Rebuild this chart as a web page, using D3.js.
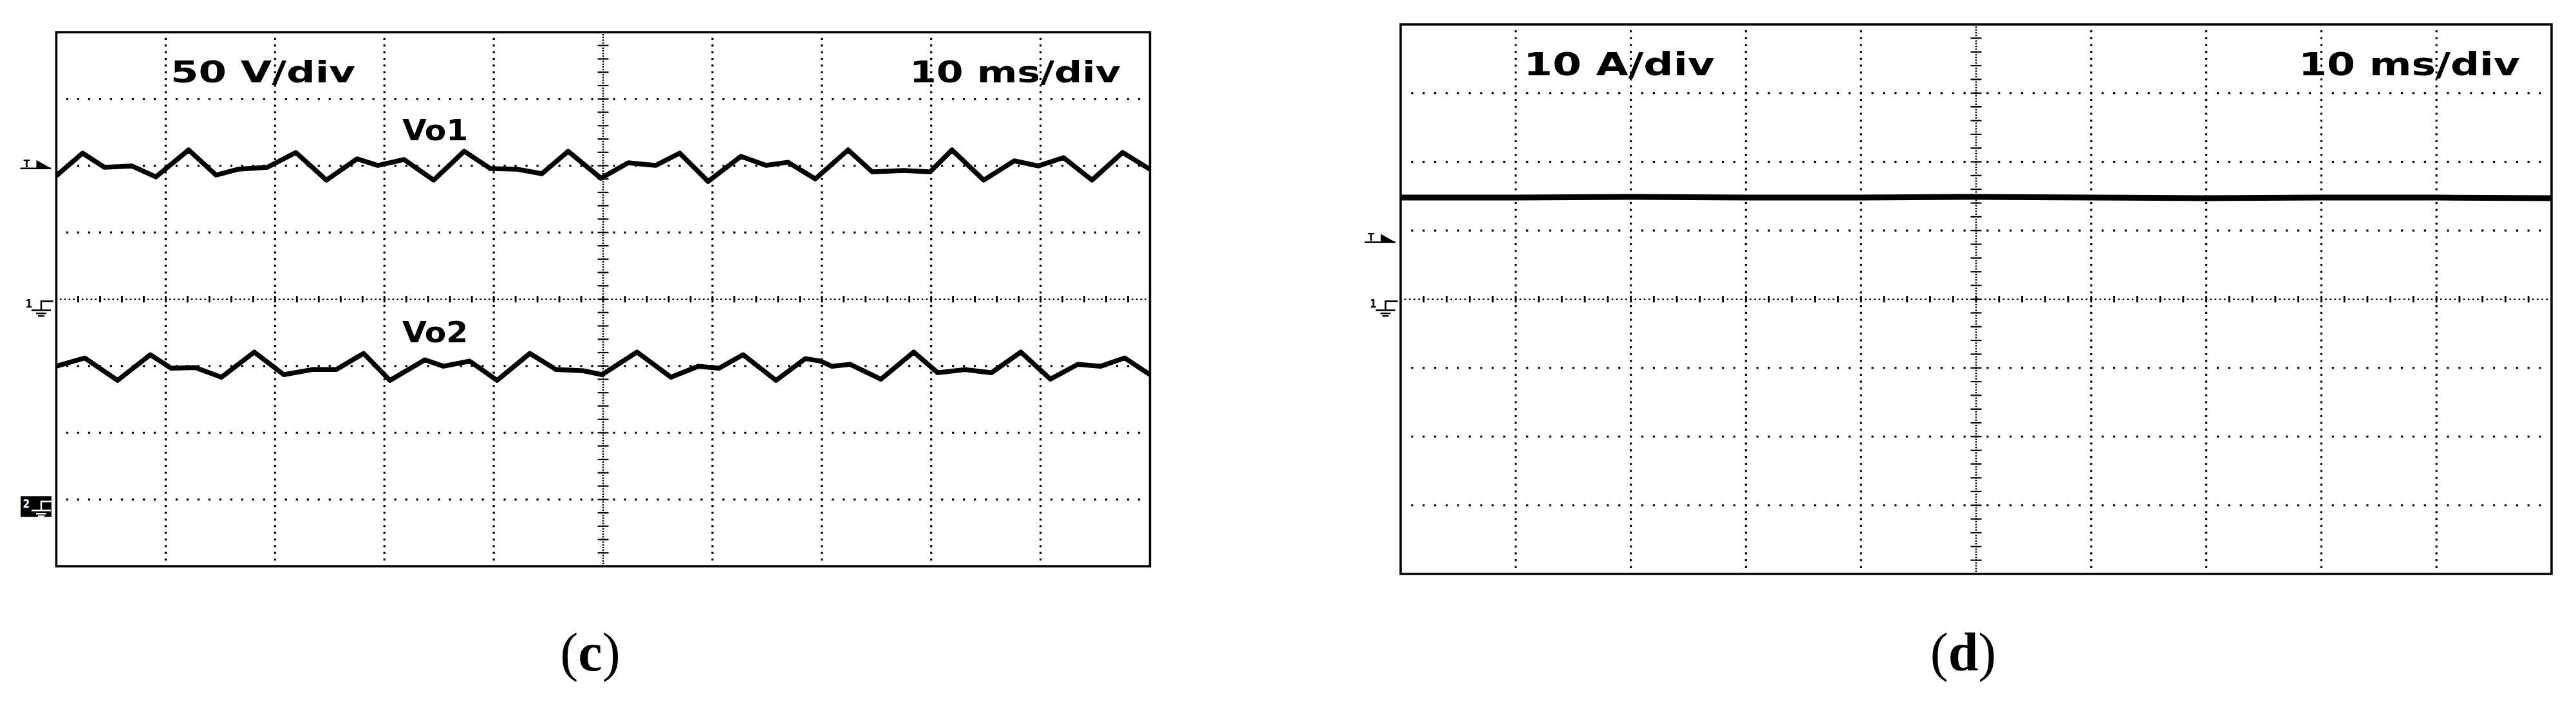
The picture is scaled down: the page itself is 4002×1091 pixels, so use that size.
<!DOCTYPE html>
<html>
<head>
<meta charset="utf-8">
<script src="https://cdn.jsdelivr.net/npm/d3@7"></script>
<style>
  body { margin: 0; background: #fff; }
  .scope-text { font-family: 'DejaVu Sans Condensed', 'DejaVu Sans', sans-serif; font-weight: bold; fill: #000; }
  .caption { font-family: 'Liberation Serif', 'Times New Roman', serif; fill: #000; }
</style>
</head>
<body>
<div id="chart"></div>
<script>
// ---- data read off the scope shots ----
// (c) output voltages, time in ms, volts
const timeVo1 = [0, 2.4, 4.4, 6.9, 9.1, 12.1, 14.6, 16.6, 19.3, 21.9, 24.7, 27.5, 29.4, 31.8, 34.5, 37.3, 39.7, 42.2, 44.4, 46.8,
  49.8, 52.3, 54.8, 57.0, 59.6, 62.6, 64.9, 66.9, 69.4, 72.4, 74.6, 77.5, 79.9, 81.9, 84.8, 87.6, 89.8, 92.1, 94.7, 97.5, 100];
const valVo1 = [92.5, 109.4, 98.8, 99.8, 91.6, 111.8, 93.0, 97.3, 98.8, 109.9, 89.2, 105.1, 100.2, 104.6, 89.2, 110.8, 97.8, 97.3, 94.0, 110.8,
  90.6, 102.2, 100.2, 109.4, 88.2, 107.0, 100.2, 102.6, 90.1, 111.8, 95.4, 96.4, 95.4, 111.8, 89.2, 103.6, 99.8, 106.0, 89.2, 109.9, 97.3];
const timeVo2 = [0, 2.6, 5.6, 8.6, 10.5, 12.7, 15.1, 18.1, 20.8, 23.4, 25.6, 28.1, 30.5, 33.7, 35.4, 37.8, 40.3, 43.3, 45.7, 48.2,
  49.9, 53.1, 56.2, 58.7, 60.6, 62.8, 65.8, 68.5, 69.9, 70.9, 72.6, 75.4, 78.4, 80.6, 83.1, 85.5, 88.2, 90.9, 93.4, 95.5, 97.7, 100];
const valVo2 = [99.8, 106.0, 89.2, 108.4, 98.3, 98.8, 91.6, 110.4, 93.5, 97.3, 97.3, 109.4, 89.2, 104.6, 99.8, 103.6, 89.2, 109.4, 97.3, 96.4,
  93.5, 110.4, 91.6, 99.8, 98.3, 108.4, 89.2, 105.5, 103.6, 99.8, 101.2, 90.1, 110.4, 94.9, 97.3, 94.9, 110.4, 90.1, 101.2, 99.8, 106.0, 93.5];
// (d) current, time in ms, amps
const timeIo = [0, 10, 20, 30, 40, 50, 60, 70, 80, 90, 100];
const valIo = [14.8, 14.8, 14.9, 14.8, 14.8, 14.9, 14.8, 14.7, 14.8, 14.8, 14.7];

// per-panel settings
const labelsC = { left: '50 V/div', right: '10 ms/div' };
const labelsD = { left: '10 A/div', right: '10 ms/div' };

const W = 4002;
const H = 1091;

const svg = d3.select('#chart').append('svg')
  .attr('width', W)
  .attr('height', H);
svg.append('rect').attr('width', W).attr('height', H).attr('fill', '#fff');

// draws graticule of a scope screen, returns scales
function drawScreen(box, perDiv) {
  const g = svg.append('g');
  const x = d3.scaleLinear().domain([0, 100]).range([box.left, box.right]);
  const y = d3.scaleLinear().domain([-4 * perDiv, 4 * perDiv]).range([box.bottom, box.top]);

  const dots = [];
  // vertical grid lines (dotted every 1/10 div)
  d3.range(1, 10).filter(i => i !== 5).forEach(i => {
    d3.range(1, 80).forEach(k => dots.push([x(i * 10), y(-4 * perDiv + k * perDiv / 10)]));
  });
  // horizontal grid lines
  d3.range(1, 8).filter(j => j !== 4).forEach(j => {
    d3.range(1, 100).forEach(k => dots.push([x(k), y(-4 * perDiv + j * perDiv)]));
  });
  g.selectAll('rect.dot').data(dots).join('rect')
    .attr('class', 'dot')
    .attr('x', d => d[0] - 1.6).attr('y', d => d[1] - 1.6)
    .attr('width', 3.2).attr('height', 3.2)
    .attr('fill', '#000');

  // centre lines: fine dots + minor ticks
  const cx = x(50);
  const cy = y(0);
  const fine = [];
  d3.range(1, 250).forEach(k => fine.push([x(k * 100 / 250), cy]));
  d3.range(1, 200).forEach(k => fine.push([cx, y(-4 * perDiv + k * 8 * perDiv / 200)]));
  g.selectAll('rect.fine').data(fine).join('rect')
    .attr('class', 'fine')
    .attr('x', d => d[0] - 1.3).attr('y', d => d[1] - 1.1)
    .attr('width', 2.6).attr('height', 2.2)
    .attr('fill', '#000');

  g.selectAll('line.htick').data(d3.range(1, 50)).join('line')
    .attr('class', 'htick')
    .attr('x1', k => x(k * 2)).attr('x2', k => x(k * 2))
    .attr('y1', cy - 5).attr('y2', cy + 5)
    .attr('stroke', '#000').attr('stroke-width', 2.8);
  g.selectAll('line.vtick').data(d3.range(1, 40)).join('line')
    .attr('class', 'vtick')
    .attr('y1', k => y(-4 * perDiv + k * perDiv / 5)).attr('y2', k => y(-4 * perDiv + k * perDiv / 5))
    .attr('x1', cx - 8.5).attr('x2', cx + 8.5)
    .attr('stroke', '#000').attr('stroke-width', 2.2);

  // frame
  g.append('rect')
    .attr('x', box.left).attr('y', box.top)
    .attr('width', box.right - box.left).attr('height', box.bottom - box.top)
    .attr('fill', 'none').attr('stroke', '#000').attr('stroke-width', 3.5);

  return { x, y, g };
}

// trigger marker "T" with arrow, bottom sitting on level
function triggerMarker(left, yl) {
  const g = svg.append('g');
  g.append('line').attr('x1', left - 56).attr('x2', left - 8).attr('y1', yl).attr('y2', yl)
    .attr('stroke', '#000').attr('stroke-width', 2.5);
  g.append('text').attr('class', 'scope-text').attr('x', left - 51).attr('y', yl - 2)
    .style('font-size', '16px').text('T');
  g.append('path').attr('d', `M${left - 31},${yl - 13}L${left - 31},${yl}L${left - 8},${yl}Z`).attr('fill', '#000');
}

// channel ground marker
function groundMarker(left, yl, ch, inverted) {
  const g = svg.append('g');
  const fg = inverted ? '#fff' : '#000';
  if (inverted) {
    g.append('rect').attr('x', left - 55.5).attr('y', yl - 5).attr('width', 48).attr('height', 32).attr('fill', '#000');
  }
  g.append('text').attr('class', 'scope-text').attr('x', inverted ? left - 52 : left - 48).attr('y', yl + 13)
    .style('font-size', '17px').style('fill', fg).text(ch);
  const p = `M${left - 4.5},${yl + 3}H${left - 23.5}V${yl + 17}`;
  g.append('path').attr('d', p).attr('fill', 'none').attr('stroke', fg).attr('stroke-width', 2.5);
  [[yl + 17, 30], [yl + 22, 16], [yl + 26, 10]].forEach(b => {
    g.append('line').attr('x1', left - 23.5 - b[1] / 2).attr('x2', left - 23.5 + b[1] / 2)
      .attr('y1', b[0]).attr('y2', b[0]).attr('stroke', fg).attr('stroke-width', 2.5);
  });
}

function scopeLabel(x, y, size, len, txt) {
  svg.append('text').attr('class', 'scope-text')
    .attr('x', x).attr('y', y)
    .attr('textLength', len).attr('lengthAdjust', 'spacingAndGlyphs')
    .style('font-size', size + 'px')
    .text(txt);
}

const line = d3.line().curve(d3.curveLinear);

// ---------- panel (c) ----------
const boxC = { left: 87.5, top: 50, right: 1786.5, bottom: 880 };
const voltsPerDiv = 50;
const ch2Offset = -3 * voltsPerDiv;
const scrC = drawScreen(boxC, voltsPerDiv);

const vo1 = timeVo1.map((t, i) => [scrC.x(t), scrC.y(valVo1[i])]);
const vo2 = timeVo2.map((t, i) => [scrC.x(t), scrC.y(valVo2[i] + ch2Offset)]);
[vo1, vo2].forEach(pts => {
  svg.append('path').attr('d', line(pts))
    .attr('fill', 'none').attr('stroke', '#000')
    .attr('stroke-width', 7.5).attr('stroke-linejoin', 'round');
});

scopeLabel(265, 128, 46, 287, labelsC.left);
scopeLabel(1413, 128, 46, 328, labelsC.right);
scopeLabel(625, 218, 44, 102, 'Vo1');
scopeLabel(625, 532, 44, 102, 'Vo2');

triggerMarker(boxC.left, scrC.y(98));
groundMarker(boxC.left, scrC.y(0), '1', false);
groundMarker(boxC.left, scrC.y(ch2Offset), '2', true);

// ---------- panel (d) ----------
const boxD = { left: 2176, top: 38, right: 3964, bottom: 892 };
const ampsPerDiv = 10;
const scrD = drawScreen(boxD, ampsPerDiv);

const io = timeIo.map((t, i) => [scrD.x(t), scrD.y(valIo[i])]);
svg.append('path').attr('d', line(io))
  .attr('fill', 'none').attr('stroke', '#000')
  .attr('stroke-width', 9);

scopeLabel(2367, 117, 49, 297, labelsD.left);
scopeLabel(3571, 117, 49, 344, labelsD.right);

triggerMarker(boxD.left, scrD.y(8.3));
groundMarker(boxD.left, scrD.y(0), '1', false);

// ---------- captions ----------
[['c', 917], ['d', 3050]].forEach(c => {
  const t = svg.append('text').attr('class', 'caption')
    .attr('x', c[1]).attr('y', 1042)
    .attr('text-anchor', 'middle')
    .style('font-size', '84px');
  t.append('tspan').text('(');
  t.append('tspan').style('font-weight', 'bold').text(c[0]);
  t.append('tspan').text(')');
});
</script>
</body>
</html>
